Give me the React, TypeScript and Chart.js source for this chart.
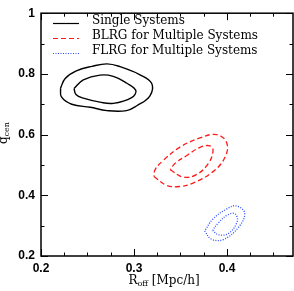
import React, { useEffect, useRef } from "react";
import { Chart, registerables } from "chart.js";
Chart.register(...registerables);

// Axis ticks
const xTicks = [0.2, 0.3, 0.4];
const xTickLabels = ["0.2", "0.3", "0.4"];
const xMinorTicks = [0.225, 0.25, 0.275, 0.325, 0.35, 0.375, 0.425, 0.45];
const yTicks = [0.2, 0.4, 0.6, 0.8, 1];
const yTickLabels = ["0.2", "0.4", "0.6", "0.8", "1"];
const yMinorTicks = [0.3, 0.5, 0.7, 0.9];

// Legend labels
const seriesLabels = ["Single Systems", "BLRG for Multiple Systems", "FLRG for Multiple Systems"];

// Contours [Roff, qcen]
const singleOuter: [number, number][] = [
  [0.221, 0.753], [0.226, 0.785], [0.238, 0.81], [0.255, 0.825], [0.271, 0.833],
  [0.285, 0.824], [0.306, 0.798], [0.319, 0.769], [0.317, 0.727], [0.303, 0.695],
  [0.292, 0.679], [0.271, 0.679], [0.253, 0.69], [0.233, 0.7], [0.222, 0.724],
];
const singleInner: [number, number][] = [
  [0.2355, 0.752], [0.2455, 0.78], [0.2634, 0.796], [0.2777, 0.792], [0.292, 0.77],
  [0.302, 0.745], [0.2975, 0.722], [0.2777, 0.703], [0.2634, 0.707], [0.2455, 0.72],
  [0.2376, 0.732],
];
const blrgOuter: [number, number][] = [
  [0.3215, 0.462], [0.335, 0.433], [0.349, 0.429], [0.364, 0.441], [0.385, 0.478],
  [0.398, 0.526], [0.3997, 0.573], [0.389, 0.6], [0.371, 0.589], [0.349, 0.558],
  [0.3315, 0.515], [0.3226, 0.484],
];
const blrgInner: [number, number][] = [
  [0.339, 0.484], [0.353, 0.46], [0.367, 0.468], [0.38, 0.505], [0.385, 0.547],
  [0.3817, 0.563], [0.371, 0.558], [0.3567, 0.531], [0.344, 0.505],
];
const flrgOuter: [number, number][] = [
  [0.376, 0.283], [0.383, 0.256], [0.396, 0.254], [0.412, 0.293], [0.419, 0.341],
  [0.41, 0.365], [0.3997, 0.355], [0.385, 0.322],
];
const flrgInner: [number, number][] = [
  [0.3846, 0.285], [0.3907, 0.27], [0.402, 0.275], [0.411, 0.314], [0.4086, 0.339],
  [0.401, 0.336], [0.3907, 0.309],
];

const colors = ["#000000", "#ff1a1a", "#2a4dff"];
const dashes: number[][] = [[], [5, 3], [1, 1.5]];

const closed = (pts: [number, number][]) =>
  [...pts, pts[0]].map(([x, y]) => ({ x, y }));

const mk = (pts: [number, number][], i: number) => ({
  data: closed(pts),
  borderColor: colors[i],
  borderWidth: i === 0 ? 1.4 : 1.3,
  borderDash: dashes[i],
  pointRadius: 0,
  fill: false,
  tension: 0.4,
  showLine: true,
});

const serif = "'DejaVu Serif', serif";

const decor = {
  id: "decor",
  afterDraw(chart: any) {
    const { ctx, chartArea: a, scales } = chart;
    const xs = scales.x, ys = scales.y;
    ctx.save();
    ctx.strokeStyle = "#000";
    ctx.lineWidth = 1;
    const vt = (v: number, len: number) => {
      const p = Math.round(xs.getPixelForValue(v)) + 0.5;
      ctx.beginPath();
      ctx.moveTo(p, a.bottom); ctx.lineTo(p, a.bottom - len);
      ctx.moveTo(p, a.top); ctx.lineTo(p, a.top + len);
      ctx.stroke();
    };
    const ht = (v: number, len: number) => {
      const p = Math.round(ys.getPixelForValue(v)) + 0.5;
      ctx.beginPath();
      ctx.moveTo(a.left, p); ctx.lineTo(a.left + len, p);
      ctx.moveTo(a.right, p); ctx.lineTo(a.right - len, p);
      ctx.stroke();
    };
    xTicks.forEach((v) => vt(v, 7));
    xMinorTicks.forEach((v) => vt(v, 3.5));
    yTicks.forEach((v) => ht(v, 7));
    yMinorTicks.forEach((v) => ht(v, 3.5));
    ctx.lineWidth = 1.5;
    ctx.strokeRect(a.left, a.top, a.right - a.left, a.bottom - a.top);

    // legend
    ctx.font = `12px ${serif}`;
    ctx.textBaseline = "middle";
    ctx.textAlign = "left";
    const rows = [21, 36, 51];
    seriesLabels.forEach((lab, i) => {
      ctx.strokeStyle = colors[i];
      ctx.lineWidth = 1.2;
      ctx.setLineDash(dashes[i]);
      ctx.beginPath();
      ctx.moveTo(53, rows[i] + 2.5);
      ctx.lineTo(79, rows[i] + 2.5);
      ctx.stroke();
      ctx.setLineDash([]);
      ctx.fillStyle = "#000";
      ctx.fillText(lab, 92, rows[i]);
    });

    // x title
    ctx.textBaseline = "alphabetic";
    ctx.fillStyle = "#000";
    const big = `12px ${serif}`, small = `8px ${serif}`;
    const parts = [["R", big, 0], ["off", small, 2.5], [" [Mpc/h]", big, 0]] as const;
    let tw = 0;
    parts.forEach(([t, f]) => { ctx.font = f; tw += ctx.measureText(t).width; });
    let x = 164 - tw / 2;
    parts.forEach(([t, f, dy]) => {
      ctx.font = f; ctx.fillText(t, x, 283.5 + dy); x += ctx.measureText(t).width;
    });

    // y title
    ctx.save();
    ctx.translate(6.5, (a.top + a.bottom) / 2);
    ctx.rotate(-Math.PI / 2);
    const yparts = [["q", big, 0], ["cen", small, 2.5]] as const;
    let yw = 0;
    yparts.forEach(([t, f]) => { ctx.font = f; yw += ctx.measureText(t).width; });
    let yx = -yw / 2 + 1.5;
    yparts.forEach(([t, f, dy]) => {
      ctx.font = f; ctx.fillText(t, yx, dy); yx += ctx.measureText(t).width;
    });
    ctx.restore();
    ctx.restore();
  },
};

export default function App() {
  const ref = useRef<HTMLCanvasElement>(null);
  useEffect(() => {
    const chart = new Chart(ref.current!, {
      type: "scatter",
      data: {
        datasets: [
          mk(singleOuter, 0), mk(singleInner, 0),
          mk(blrgOuter, 1), mk(blrgInner, 1),
          mk(flrgOuter, 2), mk(flrgInner, 2),
        ] as any,
      },
      options: {
        animation: false,
        responsive: false,
        layout: { padding: { top: 4, right: 1, left: 0, bottom: 0 } },
        plugins: { legend: { display: false }, tooltip: { enabled: false } },
        scales: {
          x: {
            type: "linear", min: 0.2, max: 0.471,
            grid: { display: false, drawTicks: false },
            border: { display: false },
            afterBuildTicks: (s: any) => { s.ticks = xTicks.map((v) => ({ value: v })); },
            afterFit: (s: any) => { s.height = 35; },
            ticks: {
              padding: 5, color: "#000", maxRotation: 0,
              font: { family: "'Liberation Sans', Arial", size: 12, weight: "bold" },
              callback: (v: any) => xTickLabels[xTicks.indexOf(Number(v))] ?? "",
            },
          },
          y: {
            type: "linear", min: 0.2, max: 1,
            grid: { display: false, drawTicks: false },
            border: { display: false },
            afterBuildTicks: (s: any) => { s.ticks = yTicks.map((v) => ({ value: v })); },
            afterFit: (s: any) => { s.width = 41; },
            ticks: {
              padding: 6, color: "#000",
              font: { family: "'Liberation Sans', Arial", size: 12, weight: "bold" },
              callback: (v: any) => yTickLabels[yTicks.indexOf(Number(v))] ?? "",
            },
          },
        },
      },
      plugins: [decor],
    } as any);
    return () => chart.destroy();
  }, []);
  return (
    <div style={{ position: "fixed", left: 0, top: 0, width: 294, height: 291, background: "#fff" }}>
      <canvas ref={ref} width={294} height={291} style={{ display: "block" }} />
    </div>
  );
}
